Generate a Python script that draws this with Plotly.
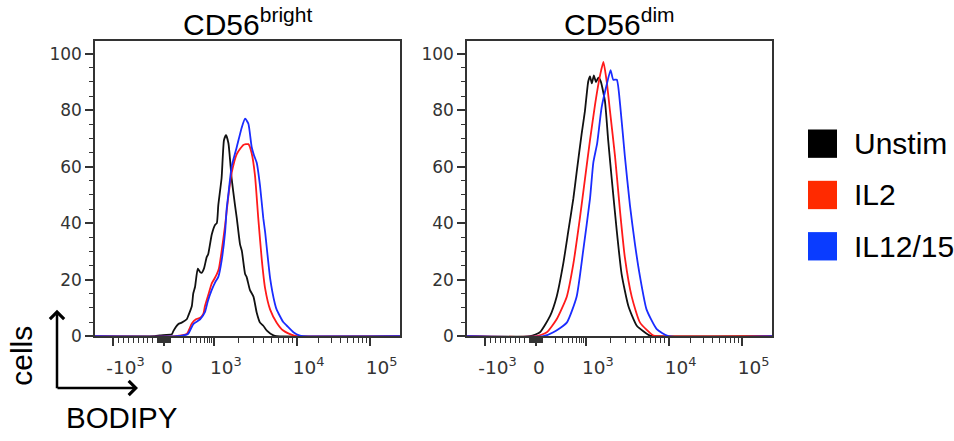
import math
import plotly.graph_objects as go

# ---------------- data (histogram channel on a 0-1024 biexponential display scale, % of max) -------------
bright_unstim_ch = [0, 201, 218, 258, 263, 280, 291, 308, 313, 325, 330, 336, 345, 353, 358, 366, 375, 380, 392, 403,
                    409, 414, 425, 433, 440, 448, 459, 470, 476, 487, 493, 504, 509, 520, 532, 543, 554, 565, 577, 599,
                    610, 1024]
bright_unstim_pct = [0, 0, 0.3, 0.7, 1.8, 4.3, 4.8, 6, 7.2, 10.6, 15.2, 17.5, 23.9, 22.7, 22.4, 24, 28, 29, 36, 39.4,
                     40, 46.4, 56, 69.4, 71.2, 68.3, 55.6, 46.4, 41.8, 32.5, 30.2, 22, 21, 16.4, 14, 8.3, 4.8, 3.7, 2,
                     0.3, 0, 0]
bright_il2_ch = [0, 269, 308, 325, 339, 353, 364, 369, 380, 392, 399, 409, 416, 425, 437, 448, 459, 476, 498, 515,
                 526, 537, 548, 560, 571, 588, 610, 632, 666, 678, 1024]
bright_il2_pct = [0, 0, 0.8, 4.5, 6, 6.5, 8, 10.6, 14.5, 18.7, 20, 22, 24, 30, 39.4, 49.8, 57.9, 64.5, 67.7, 68,
                  64.8, 57, 42, 27, 17, 9.4, 4.8, 2, 0.3, 0, 0]
bright_il1215_ch = [0, 275, 312, 330, 353, 369, 379, 392, 403, 414, 425, 437, 442, 448, 459, 476, 493, 504, 515, 526,
                    534, 543, 554, 565, 571, 588, 604, 610, 632, 644, 666, 688, 699, 1024]
bright_il1215_pct = [0, 0, 0.8, 4.3, 6, 8.5, 12.5, 16.4, 19, 21, 26.7, 37.1, 45, 50.5, 60.2, 67, 74, 77, 75.2, 67,
                     64, 61.4, 53.3, 41.8, 37, 20.5, 11.5, 9.4, 5, 3.7, 1.4, 0.2, 0, 0]

dim_unstim_ch = [0, 212, 245, 279, 301, 323, 340, 357, 368, 385, 396, 407, 413, 419, 426, 433, 441, 449, 463, 474,
                 486, 503, 519, 542, 570, 614, 631, 1024]
dim_unstim_pct = [0, 0, 1.4, 7.2, 14, 25.6, 37.1, 48.7, 57.9, 71.7, 79.8, 90.2, 92, 89.5, 92.3, 90, 91.5, 90.2, 83.3,
                  69.4, 55.6, 37.1, 22.1, 10.6, 3.7, 0.2, 0, 0]
dim_il2_ch = [0, 234, 268, 301, 335, 357, 379, 396, 413, 430, 447, 458, 469, 480, 497, 514, 530, 553, 581, 626,
              641, 1024]
dim_il2_pct = [0, 0, 1.4, 6, 14, 25.6, 41.8, 55.6, 69.4, 82.1, 92.5, 97.1, 90.2, 79.8, 63.7, 44, 27.9, 14, 4.8, 0.2,
               0, 0]
dim_il1215_ch = [0, 256, 290, 335, 368, 390, 413, 424, 437, 452, 469, 482, 491, 503, 514, 530, 547, 564, 581, 603,
                 637, 676, 1024]
dim_il1215_pct = [0, 0, 1.4, 4.8, 14, 30.2, 48.7, 61.4, 68.3, 81, 89, 94.2, 90.8, 90.8, 82.1, 63.7, 46.4, 32.5, 21,
                  9.4, 2.5, 0, 0]

series_names = ["Unstim", "IL2", "IL12/15"]
line_colors = ["#111111", "#ff1a1a", "#1a2cff"]
legend_colors = ["#000000", "#ff2a00", "#0a3cff"]
panel_titles = ["CD56<sup>bright</sup>", "CD56<sup>dim</sup>"]

# biexponential axis: anchor values and their display channels
biex_values = [-1000, -100, 0, 100, 1000, 10000, 100000]
biex_channels = [62, 211, 231, 252, 399, 677, 922]
major_values = [-1000, 0, 1000, 10000, 100000]
major_labels = ["-10<sup>3</sup>", "0\u00a0\u00a0\u00a0", "10<sup>3</sup>", "10<sup>4</sup>", "10<sup>5</sup>"]
y_major = [0, 20, 40, 60, 80, 100]


def to_channel(v):
    """Piecewise biexponential mapping: linear below 100, logarithmic above."""
    for i in range(len(biex_values) - 1):
        a, b = biex_values[i], biex_values[i + 1]
        if a <= v <= b:
            ca, cb = biex_channels[i], biex_channels[i + 1]
            if a >= 100:
                f = (math.log10(v) - math.log10(a)) / (math.log10(b) - math.log10(a))
            else:
                f = (v - a) / (b - a)
            return ca + f * (cb - ca)
    return None


minor_values = ([-100 * k for k in range(2, 10)] + [-10 * k for k in range(1, 11)] + [10 * k for k in range(1, 11)]
                + [100 * k for k in range(2, 10)] + [1000 * k for k in range(2, 10)] + [10000 * k for k in range(2, 10)])

major_tickvals = [to_channel(v) for v in major_values]
minor_tickvals = [to_channel(v) for v in minor_values]

panels = [
    [(bright_unstim_ch, bright_unstim_pct), (bright_il2_ch, bright_il2_pct), (bright_il1215_ch, bright_il1215_pct)],
    [(dim_unstim_ch, dim_unstim_pct), (dim_il2_ch, dim_il2_pct), (dim_il1215_ch, dim_il1215_pct)],
]

W, H = 954, 441
fig = go.Figure()

for p, panel in enumerate(panels):
    xa = "x" if p == 0 else "x2"
    ya = "y" if p == 0 else "y2"
    for s, (xs, ys) in enumerate(panel):
        fig.add_trace(go.Scatter(
            x=xs, y=ys, mode="lines", name=series_names[s], showlegend=False,
            line=dict(color=line_colors[s], width=1.8, shape="spline", smoothing=0.5),
            xaxis=xa, yaxis=ya, hoverinfo="skip"))

axis_common = dict(showline=True, linecolor="#333333", linewidth=1.5, mirror=True, showgrid=False, zeroline=False,
                   ticks="outside", tickcolor="#333333")

x_domains = [[95 / W, 400 / W], [467 / W, 772 / W]]
y_domain = [(H - 344) / H, (H - 42) / H]

layout = dict(width=W, height=H, margin=dict(l=0, r=0, t=0, b=0), plot_bgcolor="white", paper_bgcolor="white",
              showlegend=False)
for p in range(2):
    xkey = "xaxis" if p == 0 else "xaxis2"
    ykey = "yaxis" if p == 0 else "yaxis2"
    layout[xkey] = dict(axis_common, domain=x_domains[p], range=[0, 1024], anchor="y" if p == 0 else "y2",
                        tickmode="array", tickvals=major_tickvals, ticktext=major_labels, ticklen=8, tickwidth=2,
                        ticklabelshift=12, ticklabelstandoff=6,
                        tickfont=dict(family="DejaVu Sans", size=18.5, color="#333333"),
                        minor=dict(tickmode="array", tickvals=minor_tickvals, ticks="outside", ticklen=5,
                                   tickwidth=1, tickcolor="#333333"))
    layout[ykey] = dict(axis_common, domain=y_domain, range=[0, 104.5], anchor="x" if p == 0 else "x2",
                        tickmode="array", tickvals=y_major, ticklen=8, tickwidth=1.5,
                        tickfont=dict(family="DejaVu Sans", size=17, color="#333333"),
                        minor=dict(dtick=5, tick0=0, ticks="outside", ticklen=4, tickwidth=1, tickcolor="#333333"))

fig.update_layout(**layout)

big_font = dict(family="Liberation Sans", size=30, color="#000000")
annotations = []
for p in range(2):
    annotations.append(dict(text=panel_titles[p], xref="x domain" if p == 0 else "x2 domain", x=0.5,
                            yref="paper", y=1 - 44 / H, xanchor="center", yanchor="bottom", showarrow=False,
                            font=big_font))

# legend
legend_top, legend_step, box = 147, 52.5, 29
shapes = []
for i, name in enumerate(series_names):
    cy = legend_top + i * legend_step
    shapes.append(dict(type="rect", xref="paper", yref="paper", x0=808 / W, x1=(808 + box) / W,
                       y0=1 - (cy + box / 2) / H, y1=1 - (cy - box / 2) / H,
                       fillcolor=legend_colors[i], line=dict(width=0)))
    annotations.append(dict(text=name, xref="paper", yref="paper", x=852 / W, y=1 - cy / H, xanchor="left",
                            yanchor="middle", showarrow=False, font=big_font))

# axis-direction arrows and labels
annotations.append(dict(text="", xref="paper", yref="paper", x=57 / W, y=1 - 317 / H, ax=0, ay=80,
                        showarrow=True, arrowhead=4, arrowsize=1.1, arrowwidth=2.5, arrowcolor="#000000",
                        standoff=0, startstandoff=0))
annotations.append(dict(text="", xref="paper", yref="paper", x=138 / W, y=1 - 397 / H, ax=-82, ay=0,
                        showarrow=True, arrowhead=4, arrowsize=1.1, arrowwidth=2.5, arrowcolor="#000000",
                        standoff=0, startstandoff=0))
annotations.append(dict(text="cells", xref="paper", yref="paper", x=22 / W, y=1 - 364 / H, xanchor="center",
                        yanchor="middle", textangle=-90, showarrow=False, font=big_font))
annotations.append(dict(text="BODIPY", xref="paper", yref="paper", x=122.5 / W, y=1 - 427 / H, xanchor="center",
                        yanchor="middle", showarrow=False, font=dict(big_font, size=29.5)))

fig.update_layout(annotations=annotations, shapes=shapes)
fig.write_html("out.html")
